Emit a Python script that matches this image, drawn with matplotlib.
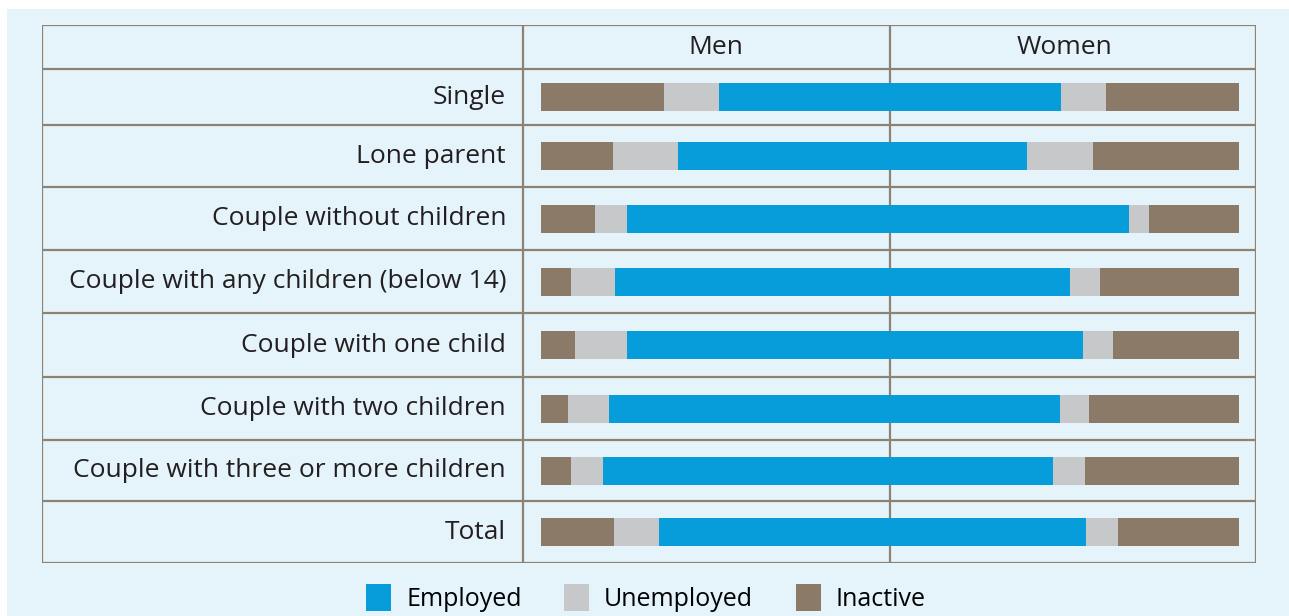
import matplotlib.pyplot as plt
from matplotlib.patches import Rectangle

categories = ['Single', 'Lone parent', 'Couple without children',
              'Couple with any children (below 14)', 'Couple with one child',
              'Couple with two children', 'Couple with three or more children', 'Total']

men_employed = [48.9, 60.6, 75.3, 78.7, 75.3, 80.5, 82.2, 66.1]
men_unemployed = [15.8, 18.7, 9.2, 12.6, 14.9, 11.8, 9.2, 12.9]
men_inactive = [35.3, 20.7, 15.5, 8.6, 9.8, 7.8, 8.6, 21.0]

women_employed = [49.1, 39.4, 68.6, 51.7, 55.4, 48.6, 46.6, 56.3]
women_unemployed = [12.9, 18.9, 5.7, 8.6, 8.6, 8.3, 9.4, 9.1]
women_inactive = [38.0, 41.7, 25.7, 39.7, 36.0, 43.1, 44.0, 34.6]

c_emp = '#069dda'
c_unemp = '#c7c8ca'
c_inact = '#8a7a67'
c_line = '#8e8272'
bg = '#e5f3fb'
txt = '#231f20'

W, H = 1289, 616
fig = plt.figure(figsize=(W / 100, H / 100), dpi=100)
fig.patch.set_facecolor('white')
fig.patches.append(Rectangle((7 / W, 0), 1 - 7 / W, 1 - 9 / H, transform=fig.transFigure,
                             facecolor=bg, edgecolor='none', zorder=-5))

# table in pixel-like units (top of table = 25, bottom = 563)
row_edges = [69, 125, 187, 250, 313, 377, 440, 501, 563]
header_top = 25
y = [(a + b) / 2 for a, b in zip(row_edges[:-1], row_edges[1:])]
bh = 28

ax = fig.add_axes([42 / W, 1 - 563 / H, (1256 - 42) / W, (563 - 25) / H])
ax.set_zorder(1)
ax.set_xlim(-243, 104.9)
ax.set_ylim(563, 25)
ax.axis('off')

font = 'Open Sans'

# table grid
for b in [header_top] + row_edges:
    ax.axhline(b, color=c_line, lw=1.6, zorder=1)
for xv in [-243, -105.2, 0, 104.9]:
    ax.axvline(xv, color=c_line, lw=1.6, zorder=1)

# men (to the left of center)
ax.barh(y, [-v for v in men_employed], height=bh, color=c_emp, zorder=2, label='Employed')
ax.barh(y, [-v for v in men_unemployed], left=[-v for v in men_employed], height=bh,
        color=c_unemp, zorder=2, label='Unemployed')
ax.barh(y, [-v for v in men_inactive],
        left=[-(a + b) for a, b in zip(men_employed, men_unemployed)], height=bh,
        color=c_inact, zorder=2, label='Inactive')

# women (to the right)
ax.barh(y, women_employed, height=bh, color=c_emp, zorder=2)
ax.barh(y, women_unemployed, left=women_employed, height=bh, color=c_unemp, zorder=2)
ax.barh(y, women_inactive, left=[a + b for a, b in zip(women_employed, women_unemployed)],
        height=bh, color=c_inact, zorder=2)

for yi, cat in zip(y, categories):
    ax.text(-110, yi, cat, ha='right', va='center', fontsize=19, family=font, color=txt)

hy = (header_top + row_edges[0]) / 2
ax.text(-50, hy, 'Men', ha='center', va='center', fontsize=19, family=font, color=txt)
ax.text(50, hy, 'Women', ha='center', va='center', fontsize=19, family=font, color=txt)

handles, labels = ax.get_legend_handles_labels()
fig.legend(handles, labels, loc='center', bbox_to_anchor=(646 / W, 1 - 598 / H), ncol=3,
           frameon=False, handlelength=1.0, handleheight=1.3, handletextpad=0.6,
           columnspacing=1.7, prop={'family': font, 'size': 18})

fig.savefig('out.png', dpi=100, facecolor=fig.get_facecolor())
